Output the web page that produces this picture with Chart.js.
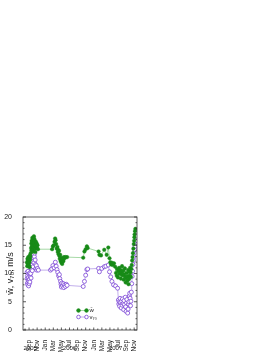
<!DOCTYPE html>
<html lang="en">
<head>
<meta charset="UTF-8">
<title>Wind speed</title>
<script src="https://cdn.jsdelivr.net/npm/chart.js"></script>
<style>
  body { margin: 0; background: #fff; }
  canvas { display: block; }
</style>
</head>
<body>
<canvas id="windChart" width="274" height="354"></canvas>
<script>
// x values are months counted from 1 Sep 2005
const wMonths = [-0.5, -0.45, -0.4, -0.35, -0.3, -0.25, -0.2, -0.15, -0.1, -0.05, 0.0, 0.05, 0.1, 0.15, 0.2, 0.25, 0.3,
  0.4, 0.5, 0.55, 0.6, 0.65, 0.7, 0.75, 0.8, 0.85, 0.9, 0.95, 1.0, 1.05, 1.1, 1.15, 1.2, 1.25, 1.3, 1.35, 1.4, 1.45, 1.5, 1.55, 1.6, 1.7, 1.8, 1.9, 2.0, 2.1, 2.2,
  5.7, 5.9, 6.1, 6.3, 6.45, 6.55, 6.7, 6.85, 7.0, 7.1, 7.2,
  7.3, 7.4, 7.5, 7.6, 7.7, 7.8, 7.9, 8.0, 8.1, 8.2, 8.3, 8.4, 8.5, 8.6, 8.8, 9.0, 9.4,
  13.4, 13.7, 14.0, 14.3, 14.5, 17.2, 17.4, 17.8, 18.6, 19.2, 19.6, 19.9, 20.1, 20.3, 20.5, 20.7,
  21.0, 21.3, 21.5, 21.7, 21.8, 22.0, 22.1, 22.3, 22.4, 22.6, 22.7, 22.9, 23.0, 23.1, 23.3, 23.4, 23.5, 23.7, 23.8, 23.9,
  24.0, 24.1, 24.3, 24.4, 24.5, 24.6, 24.7, 24.8, 24.9, 25.0, 25.1, 25.2, 25.3, 25.4,
  25.5, 25.6, 25.7, 25.8, 25.9, 26.0, 26.05, 26.1, 26.2, 26.3];
const wValues = [12.0, 11.3, 12.6, 11.8, 12.3, 11.6, 12.9, 12.2, 11.9, 12.5, 11.4, 12.0, 11.1, 12.7, 13.2, 12.4, 13.0,
  13.6, 14.5, 15.3, 14.1, 15.8, 14.8, 15.6, 16.3, 15.0, 14.3, 15.5, 16.0, 14.7, 13.9, 15.2, 16.6, 16.2, 15.4, 14.6, 15.9, 15.1, 14.4, 13.8, 14.9, 15.6, 14.8, 15.3, 14.5, 15.0, 14.3,
  14.3, 14.8, 15.0, 15.6, 16.2, 15.9, 15.2, 14.4, 14.7, 13.8, 14.2,
  13.4, 14.0, 13.1, 12.6, 13.3, 12.2, 12.8, 11.9, 12.4, 11.7, 12.1, 12.6, 12.2, 12.9, 12.7, 12.9, 12.9,
  12.8, 13.9, 14.3, 14.8, 14.5, 13.9, 13.3, 13.2, 14.2, 13.3, 14.6, 12.7, 12.0, 11.6, 11.9, 11.5,
  11.8, 11.2, 10.1, 9.6, 10.8, 9.3, 10.4, 11.0, 9.9, 10.6, 9.1, 10.2, 11.3, 9.7, 10.5, 8.9, 9.8, 10.9, 9.4, 8.4,
  9.2, 10.1, 8.7, 9.5, 10.6, 8.1, 9.0, 10.3, 9.6, 11.0, 10.2, 9.4, 10.8, 11.5,
  12.3, 12.9, 13.6, 14.4, 15.2, 15.8, 16.4, 16.9, 17.5, 17.9];

const vMonths = [-0.5, -0.45, -0.4, -0.35, -0.3, -0.25, -0.2, -0.15, -0.1, -0.05, 0.0, 0.05, 0.1, 0.15, 0.2, 0.3, 0.4, 0.5,
  0.6, 0.7, 0.8, 0.9, 1.0, 1.1, 1.2, 1.3, 1.4, 1.5, 1.6, 1.7, 1.8, 1.9, 2.1, 2.3,
  5.3, 5.6, 5.9, 6.2, 6.5, 6.7, 6.9, 7.1, 7.3, 7.5, 7.6, 7.8,
  7.9, 8.0, 8.1, 8.3, 8.5, 8.6, 8.8, 9.0, 9.2, 9.4,
  13.4, 13.7, 14.0, 14.3, 14.5, 17.2, 17.4, 18.0, 18.6, 19.0, 19.6, 19.9, 20.2, 20.5, 20.9, 21.4, 21.9,
  22.1, 22.2, 22.3, 22.4, 22.5, 22.6, 22.8, 22.9, 23.0, 23.1, 23.3, 23.4, 23.5, 23.6, 23.8, 23.9,
  24.0, 24.1, 24.2, 24.4, 24.5, 24.6, 24.7, 24.8, 24.9, 25.0, 25.1, 25.2,
  25.3, 25.4, 25.5, 25.6, 25.7, 25.8, 25.9, 26.0, 26.1, 26.2, 26.3, 26.4];
const vValues = [10.2, 9.1, 8.3, 9.6, 8.0, 10.4, 8.8, 9.3, 7.8, 8.6, 9.9, 8.2, 9.0, 10.1, 8.5, 9.4, 10.0, 9.2,
  10.8, 11.5, 10.5, 12.1, 11.2, 12.8, 11.9, 13.0, 13.6, 12.4, 11.6, 10.9, 11.4, 10.6, 10.9, 10.6,
  10.6, 10.8, 11.4, 11.0, 12.0, 11.3, 10.7, 10.2, 9.6, 9.8, 9.1, 8.6,
  8.1, 7.6, 8.3, 7.8, 8.2, 7.5, 8.0, 7.7, 8.1, 7.9,
  7.7, 8.6, 9.7, 10.7, 10.8, 10.9, 10.3, 10.9, 11.2, 11.3, 11.5, 10.3, 9.4, 8.6, 8.0, 7.8, 7.4,
  5.3, 4.6, 5.0, 4.2, 5.6, 4.9, 3.9, 5.1, 4.4, 5.5, 4.7, 3.6, 5.2, 4.5, 5.8, 4.1,
  3.3, 4.8, 5.4, 3.0, 3.7, 4.6, 5.0, 6.0, 6.5, 5.6, 4.3, 5.1,
  6.7, 8.2, 9.5, 10.4, 11.6, 12.3, 12.9, 13.6, 14.2, 14.8, 15.4, 15.8];

const monthNames = ['Sep', 'Nov', 'Jan', 'Mar', 'May', 'Jul', 'Sep', 'Nov', 'Jan', 'Mar', 'May', 'Jul', 'Sep', 'Nov'];
const yearLabels = ['2005', '2006', '2007'];
const yearMonths = [0.3, 10, 21.4];

const FONT = '"Liberation Sans", Arial, sans-serif';
const GREEN = '#178a17';
const PURPLE = '#7b45d6';

function pairs(xs, ys) {
  return xs.map((m, i) => ({ x: m, y: ys[i] }));
}

// box with inward ticks, year labels and the small legend
const framePlugin = {
  id: 'frame',
  afterDraw(chart) {
    const { ctx, chartArea: a, scales: { x, y } } = chart;
    ctx.save();
    ctx.strokeStyle = '#333';
    ctx.lineWidth = 0.8;
    ctx.strokeRect(a.left, a.top, a.right - a.left, a.bottom - a.top);
    ctx.beginPath();
    for (let v = 0; v <= 20; v++) {
      const py = y.getPixelForValue(v);
      const len = v % 5 === 0 ? 3 : 1.5;
      ctx.moveTo(a.left, py); ctx.lineTo(a.left + len, py);
      ctx.moveTo(a.right, py); ctx.lineTo(a.right - len, py);
    }
    for (let m = -1; m <= 26; m++) {
      const px = x.getPixelForValue(m);
      const len = m % 2 === 0 ? 2.5 : 1.5;
      ctx.moveTo(px, a.bottom); ctx.lineTo(px, a.bottom - len);
    }
    ctx.stroke();

    ctx.fillStyle = '#222';
    ctx.font = '6px ' + FONT;
    ctx.textAlign = 'center';
    ctx.textBaseline = 'middle';
    yearLabels.forEach((t, i) => {
      ctx.fillText(t, x.getPixelForValue(yearMonths[i]), a.bottom + 18);
    });

    // legend
    const lx0 = 78.5, lx1 = 86.5;
    const rows = [
      { y: 310.5, text: 'w\u0304', fill: GREEN, stroke: GREEN, line: '#8fcf8f' },
      { y: 317, text: 'v\u2087\u2080', fill: '#fff', stroke: PURPLE, line: '#b39be6' }
    ];
    rows.forEach(r => {
      ctx.strokeStyle = r.line;
      ctx.lineWidth = 0.8;
      ctx.beginPath();
      ctx.moveTo(lx0, r.y); ctx.lineTo(lx1, r.y);
      ctx.stroke();
      [lx0, lx1].forEach(px => {
        ctx.beginPath();
        ctx.arc(px, r.y, 1.8, 0, Math.PI * 2);
        ctx.fillStyle = r.fill;
        ctx.fill();
        ctx.strokeStyle = r.stroke;
        ctx.stroke();
      });
      ctx.fillStyle = '#222';
      ctx.font = '6px ' + FONT;
      ctx.textAlign = 'left';
      ctx.fillText(r.text, lx1 + 3, r.y);
    });
    ctx.restore();
  }
};

const ctx = document.getElementById('windChart').getContext('2d');
const chart = new Chart(ctx, {
  type: 'scatter',
  data: {
    datasets: [
      {
        label: 'w',
        data: pairs(wMonths, wValues),
        showLine: true,
        borderColor: '#8fcf8f',
        borderWidth: 0.8,
        pointRadius: 1.8,
        pointBackgroundColor: GREEN,
        pointBorderColor: GREEN,
        pointBorderWidth: 0.4
      },
      {
        label: 'v70',
        data: pairs(vMonths, vValues),
        showLine: true,
        borderColor: '#b39be6',
        borderWidth: 0.8,
        pointRadius: 2,
        pointBackgroundColor: '#fff',
        pointBorderColor: PURPLE,
        pointBorderWidth: 0.8
      }
    ]
  },
  options: {
    responsive: false,
    animation: false,
    events: [],
    layout: { padding: { left: 0, top: 217, right: 137, bottom: 0 } },
    plugins: { legend: { display: false }, tooltip: { enabled: false } },
    scales: {
      x: {
        type: 'linear',
        min: -1.5,
        max: 26.7,
        grid: { display: false },
        border: { display: false },
        afterFit: s => { s.height = 24; s.paddingLeft = 0; s.paddingRight = 0; },
        ticks: {
          stepSize: 1,
          includeBounds: false,
          autoSkip: false,
          minRotation: 90,
          maxRotation: 90,
          padding: 2,
          color: '#222',
          font: { family: FONT, size: 6.5 },
          callback: v => (Number.isInteger(v) && v >= 0 && v % 2 === 0) ? monthNames[v / 2] : ''
        }
      },
      y: {
        min: 0,
        max: 20,
        grid: { display: false },
        border: { display: false },
        afterFit: s => { s.width = 23; },
        ticks: {
          stepSize: 5,
          padding: 3,
          color: '#222',
          font: { family: FONT, size: 7 }
        },
        title: {
          display: true,
          text: 'w\u0304, v\u2087\u2080, m/s',
          color: '#222',
          font: { family: FONT, size: 9 },
          padding: { top: 5, bottom: 0 }
        }
      }
    }
  },
  plugins: [framePlugin]
});
</script>
</body>
</html>
